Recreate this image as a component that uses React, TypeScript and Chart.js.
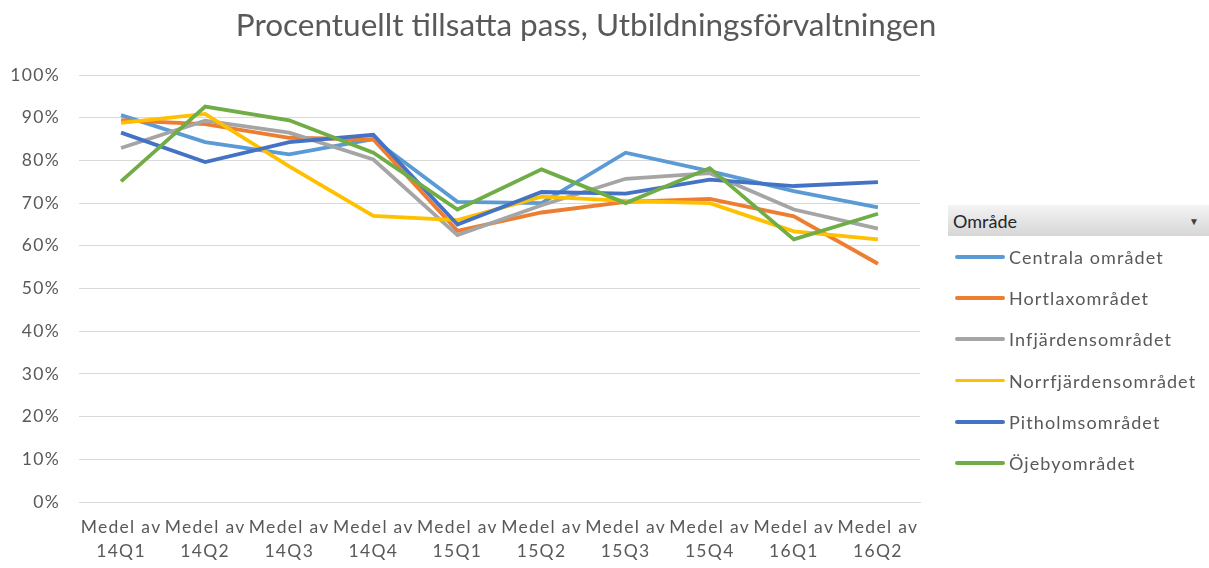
import React, { useEffect, useRef } from "react";
import { Chart, registerables } from "chart.js";

Chart.register(...registerables);

const quarters = ["14Q1", "14Q2", "14Q3", "14Q4", "15Q1", "15Q2", "15Q3", "15Q4", "16Q1", "16Q2"];
const labelPrefix = "Medel av";

const seriesNames = [
  "Centrala området",
  "Hortlaxområdet",
  "Infjärdensområdet",
  "Norrfjärdensområdet",
  "Pitholmsområdet",
  "Öjebyområdet",
];
const seriesColors = ["#5B9BD5", "#ED7D31", "#A5A5A5", "#FFC000", "#4472C4", "#70AD47"];

const centrala = [0.906, 0.843, 0.814, 0.85, 0.703, 0.70, 0.818, 0.775, 0.728, 0.69];
const hortlax = [0.894, 0.885, 0.853, 0.849, 0.635, 0.678, 0.703, 0.71, 0.669, 0.558];
const infjarden = [0.829, 0.893, 0.865, 0.802, 0.625, 0.695, 0.757, 0.77, 0.685, 0.64];
const norrfjarden = [0.888, 0.909, 0.786, 0.67, 0.66, 0.715, 0.705, 0.70, 0.634, 0.615];
const pitholm = [0.865, 0.796, 0.843, 0.86, 0.65, 0.726, 0.722, 0.755, 0.74, 0.749];
const ojeby = [0.751, 0.926, 0.894, 0.818, 0.685, 0.779, 0.70, 0.782, 0.615, 0.675];

const seriesValues = [centrala, hortlax, infjarden, norrfjarden, pitholm, ojeby];

const yTicks = [0, 0.1, 0.2, 0.3, 0.4, 0.5, 0.6, 0.7, 0.8, 0.9, 1.0];

const FONT = "Lato, 'Open Sans', sans-serif";
const TEXT = "#595959";

const spacingPlugin = {
  id: "letterSpacing",
  beforeDraw(chart: any) {
    (chart.ctx as any).letterSpacing = "1.3px";
  },
};

export default function App() {
  const canvasRef = useRef<HTMLCanvasElement | null>(null);

  useEffect(() => {
    document.body.style.margin = "0";
    const canvas = canvasRef.current;
    if (!canvas) return;
    const chart = new Chart(canvas, {
      type: "line",
      data: {
        labels: quarters.map((q) => [labelPrefix, q]),
        datasets: seriesNames.map((name, i) => ({
          label: name,
          data: seriesValues[i],
          borderColor: seriesColors[i],
          backgroundColor: seriesColors[i],
          borderWidth: 3.8,
          pointRadius: 0,
          tension: 0,
          fill: false,
          order: seriesNames.length - i,
        })),
      },
      plugins: [spacingPlugin],
      options: {
        responsive: false,
        animation: false,
        layout: { padding: { top: 75, left: 0, right: 289, bottom: 0 } },
        plugins: {
          legend: { display: false },
          title: { display: false },
          tooltip: { enabled: false },
        },
        scales: {
          x: {
            type: "category",
            offset: true,
            grid: { display: false, drawTicks: false },
            border: { display: true, color: "#d9d9d9", width: 1 },
            ticks: {
              autoSkip: false,
              maxRotation: 0,
              minRotation: 0,
              padding: 13,
              color: TEXT,
              font: { family: FONT, size: 17.5, lineHeight: 1.4 },
            },
            afterFit: (scale: any) => {
              scale.height = 66;
            },
          },
          y: {
            min: 0,
            max: 1,
            afterBuildTicks: (scale: any) => {
              scale.ticks = yTicks.map((v) => ({ value: v }));
            },
            grid: { color: "#d9d9d9", lineWidth: 1, drawTicks: false },
            border: { display: false },
            ticks: {
              padding: 19,
              color: TEXT,
              font: { family: FONT, size: 17.5 },
              callback: (v: any) => Math.round(Number(v) * 100) + "%",
            },
            afterFit: (scale: any) => {
              scale.width = 79;
            },
          },
        },
      },
    });
    return () => chart.destroy();
  }, []);

  return (
    <div style={{ position: "relative", width: 1209, height: 568, background: "#fff", overflow: "hidden" }}>
      <canvas ref={canvasRef} width={1209} height={568} style={{ position: "absolute", left: 0, top: 0 }} />
      <div
        style={{
          position: "absolute",
          left: 0,
          top: 5,
          width: 1172,
          textAlign: "center",
          fontFamily: FONT,
          fontSize: 31.5,
          color: TEXT,
          whiteSpace: "nowrap",
        }}
      >
        Procentuellt tillsatta pass, Utbildningsförvaltningen
      </div>
      <div style={{ position: "absolute", left: 948, top: 205, width: 261, fontFamily: FONT }}>
        <div
          style={{
            height: 31,
            background: "linear-gradient(#f4f4f4, #d6d6d6)",
            display: "flex",
            alignItems: "center",
            justifyContent: "space-between",
            padding: "0 10px 0 5px",
            fontSize: 18,
            color: "#262626",
            boxSizing: "border-box",
          }}
        >
          <span>Område</span>
          <span style={{ fontSize: 10, color: "#404040" }}>▼</span>
        </div>
        {seriesNames.map((name, i) => (
          <div
            key={name}
            style={{ position: "absolute", top: 41 + i * 41.2, left: 7, display: "flex", alignItems: "center", height: 22 }}
          >
            <div style={{ width: 50, height: 3.8, background: seriesColors[i], borderRadius: 2, marginRight: 4 }} />
            <span style={{ fontSize: 18, color: TEXT, letterSpacing: 1.1, whiteSpace: "nowrap" }}>{name}</span>
          </div>
        ))}
      </div>
    </div>
  );
}
